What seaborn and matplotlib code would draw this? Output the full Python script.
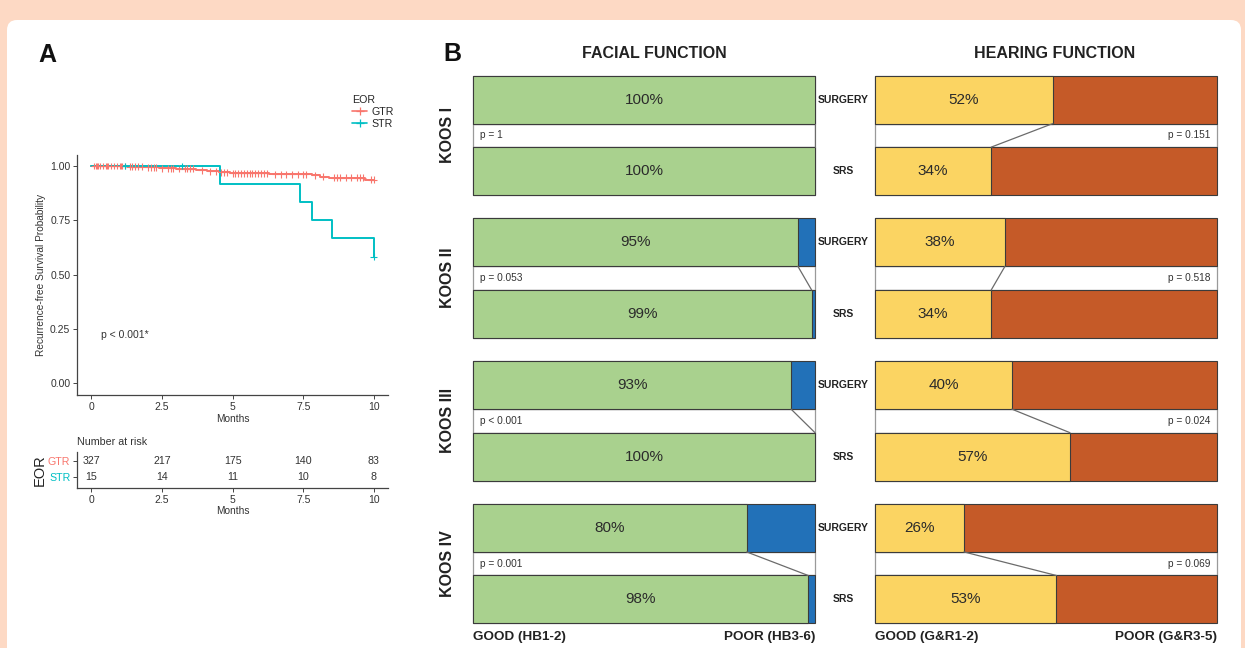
import numpy as np
import pandas as pd
import matplotlib
matplotlib.use("Agg")
import matplotlib.pyplot as plt
from matplotlib.patches import Rectangle, FancyBboxPatch
from matplotlib.lines import Line2D
import seaborn as sns

# ---------------- Panel A: recurrence-free survival by extent of resection
gtr_times = [0, 1.3, 1.9, 2.4, 3.0, 3.7, 4.1, 4.5, 4.9, 6.3, 7.8, 8.1, 8.4, 9.7, 10.0]
gtr_surv = [1.0, 0.997, 0.994, 0.990, 0.987, 0.980, 0.975, 0.970, 0.966,
            0.962, 0.957, 0.951, 0.946, 0.936, 0.936]
gtr_censored = [0.1, 0.15, 0.2, 0.25, 0.3, 0.4, 0.5, 0.55, 0.6, 0.7, 0.8, 0.9,
                1.0, 1.05, 1.1, 1.2, 1.35, 1.45, 1.55, 1.65, 1.8, 2.0, 2.1,
                2.2, 2.3, 2.5, 2.7, 2.8, 2.9, 3.1, 3.3, 3.4, 3.5, 3.6, 3.9,
                4.2, 4.4, 4.6, 4.7, 4.8, 5.0, 5.1, 5.2, 5.3, 5.4, 5.5, 5.6,
                5.7, 5.8, 5.9, 6.0, 6.1, 6.2, 6.5, 6.7, 6.9, 7.1, 7.3, 7.5,
                7.6, 7.9, 8.2, 8.6, 8.7, 8.8, 9.0, 9.2, 9.4, 9.5, 9.6, 9.9, 10.0]
str_times = [0, 4.55, 7.4, 7.8, 8.5, 10.0]
str_surv = [1.0, 0.917, 0.833, 0.75, 0.667, 0.583]
str_censored = [1.2, 3.2, 10.0]

risk_times = [0, 2.5, 5, 7.5, 10]
gtr_at_risk = [327, 217, 175, 140, 83]
str_at_risk = [15, 14, 11, 10, 8]
eor_groups = ["GTR", "STR"]
eor_colors = {"GTR": "#F8766D", "STR": "#00BFC4"}

# ---------------- Panel B: functional outcome, surgery vs SRS per Koos grade
koos_groups = ["KOOS I", "KOOS II", "KOOS III", "KOOS IV"]
treatments = ["SURGERY", "SRS"]
facial_surgery_good = [100, 95, 93, 80]
facial_srs_good = [100, 99, 100, 98]
facial_p = ["p = 1", "p = 0.053", "p < 0.001", "p = 0.001"]
hearing_surgery_good = [52, 38, 40, 26]
hearing_srs_good = [34, 34, 57, 53]
hearing_p = ["p = 0.151", "p = 0.518", "p = 0.024", "p = 0.069"]

GREEN, BLUE = "#A9D18E", "#2271B8"
YELLOW, RUST = "#FBD462", "#C55A28"
EDGE = "#3b3b3b"

sns.set_style("white")
plt.rcParams["font.family"] = ["Liberation Sans", "DejaVu Sans"]

W, H = 1245, 648
fig = plt.figure(figsize=(W / 100, H / 100), dpi=100, facecolor="#FDD9C4")


def frac_box(x0, y0, x1, y1):
    """Axes rectangle from pixel corners (top-left origin)."""
    return [x0 / W, 1 - y1 / H, (x1 - x0) / W, (y1 - y0) / H]


# white card behind everything
bg = fig.add_axes([0, 0, 1, 1])
bg.set_zorder(-5)
bg.set_xlim(0, W)
bg.set_ylim(H, 0)
bg.axis("off")
bg.add_patch(FancyBboxPatch((7, 20), 1234, 700,
                            boxstyle="round,pad=0,rounding_size=10",
                            fc="white", ec="none"))


def step_lookup(times, surv, t):
    idx = np.searchsorted(times, t, side="right") - 1
    return np.asarray(surv)[idx]


# ---- Kaplan-Meier curves
km = pd.concat([
    pd.DataFrame({"time": gtr_times, "surv": gtr_surv, "EOR": "GTR"}),
    pd.DataFrame({"time": str_times, "surv": str_surv, "EOR": "STR"}),
], ignore_index=True)
cens = pd.concat([
    pd.DataFrame({"time": gtr_censored,
                  "surv": step_lookup(gtr_times, gtr_surv, gtr_censored),
                  "EOR": "GTR"}),
    pd.DataFrame({"time": str_censored,
                  "surv": step_lookup(str_times, str_surv, str_censored),
                  "EOR": "STR"}),
], ignore_index=True)

ax_km = fig.add_axes(frac_box(77.3, 155.1, 388, 395.2))
ax_km.set_facecolor("none")
for grp in eor_groups:
    sub = km[km["EOR"] == grp]
    sns.lineplot(data=sub, x="time", y="surv", color=eor_colors[grp],
                 drawstyle="steps-post", estimator=None, sort=False,
                 lw=1.4, ax=ax_km, legend=False)
sns.scatterplot(data=cens, x="time", y="surv", hue="EOR", palette=eor_colors,
                marker="+", s=24, linewidth=0.8, ax=ax_km, legend=False, zorder=3)
ax_km.set_xlim(-0.5, 10.5)
ax_km.set_ylim(-0.055, 1.05)
ax_km.set_xticks(risk_times)
ax_km.set_xticklabels(["0", "2.5", "5", "7.5", "10"])
ax_km.set_yticks([0, 0.25, 0.5, 0.75, 1.0])
ax_km.set_yticklabels(["0.00", "0.25", "0.50", "0.75", "1.00"])
ax_km.set_xlabel("Months", fontsize=7.3, color="#333333", labelpad=1)
ax_km.set_ylabel("Recurrence-free Survival Probability", fontsize=7.3,
                 color="#333333", labelpad=3)
ax_km.text(0.35, 0.22, "p < 0.001*", fontsize=7.5, color="#333333",
           va="center", ha="left")
for side in ("top", "right"):
    ax_km.spines[side].set_visible(False)
for side in ("left", "bottom"):
    ax_km.spines[side].set_color("#444444")
    ax_km.spines[side].set_linewidth(0.9)
ax_km.tick_params(axis="both", length=3, width=0.7, color="#444444",
                  labelsize=7.5, labelcolor="#333333", pad=2, left=True, bottom=True)

legend_handles = [Line2D([], [], color=eor_colors[g], marker="+", markersize=6,
                         lw=1.2, mew=0.9) for g in eor_groups]
fig.legend(legend_handles, eor_groups, title="EOR", loc="upper left",
           bbox_to_anchor=(347 / W, 1 - 90 / H), frameon=False, fontsize=7.7,
           title_fontsize=7.7, handlelength=1.4, handletextpad=0.4,
           labelspacing=0.15, borderpad=0, alignment="left")

# ---- number-at-risk table
ax_risk = fig.add_axes(frac_box(77.3, 452, 388, 488))
ax_risk.set_facecolor("none")
risk_rows = {"GTR": 1, "STR": 0}
for grp, counts in (("GTR", gtr_at_risk), ("STR", str_at_risk)):
    for t, n in zip(risk_times, counts):
        ax_risk.text(t, risk_rows[grp], f"{n:d}", ha="center", va="center",
                     fontsize=7.7, color="#333333")
ax_risk.set_xlim(-0.5, 10.5)
ax_risk.set_ylim(-0.69, 1.56)
ax_risk.set_xticks(risk_times)
ax_risk.set_xticklabels(["0", "2.5", "5", "7.5", "10"])
ax_risk.set_yticks([risk_rows[g] for g in eor_groups])
ax_risk.set_yticklabels(eor_groups)
ax_risk.set_xlabel("Months", fontsize=7.3, color="#333333", labelpad=1)
ax_risk.set_ylabel("EOR", fontsize=10.5, color="#222222", labelpad=1)
ax_risk.set_title("Number at risk", loc="left", fontsize=7.7, color="#333333",
                  pad=5)
for side in ("top", "right"):
    ax_risk.spines[side].set_visible(False)
for side in ("left", "bottom"):
    ax_risk.spines[side].set_color("#444444")
    ax_risk.spines[side].set_linewidth(0.9)
ax_risk.tick_params(axis="both", length=3, width=0.7, color="#444444",
                    labelsize=7.5, labelcolor="#333333", pad=2, left=True, bottom=True)
ax_risk.tick_params(axis="y", labelsize=7.7)
for lbl, g in zip(ax_risk.get_yticklabels(), eor_groups):
    lbl.set_color(eor_colors[g])

# ---------------- Panel B bar blocks
BAR_W = 0.67


def draw_outcome(ax, surg_good, srs_good, good_col, poor_col, pvals, p_right):
    rows, goods = [], []
    for k, sg, rg in zip(koos_groups, surg_good, srs_good):
        rows += [f"{k} {treatments[0]}", f"{k} {treatments[1]}"]
        goods += [sg, rg]
    df = pd.DataFrame({"row": rows, "good": goods, "total": [100] * len(rows)})
    sns.barplot(data=df, y="row", x="total", order=rows, orient="h",
                color=poor_col, saturation=1, width=BAR_W, edgecolor=EDGE,
                linewidth=0.8, errorbar=None, ax=ax)
    sns.barplot(data=df, y="row", x="good", order=rows, orient="h",
                color=good_col, saturation=1, width=BAR_W, edgecolor=EDGE,
                linewidth=0.8, errorbar=None, ax=ax)
    half = BAR_W / 2
    for i, (sg, rg, p) in enumerate(zip(surg_good, srs_good, pvals)):
        top = 2 * i + half
        bot = 2 * i + 1 - half
        ax.add_patch(Rectangle((0, top), 100, bot - top, fc="white",
                               ec="#9a9a9a", lw=0.9, zorder=0.5))
        ax.plot([sg, rg], [top, bot], color="#6b6b6b", lw=0.9, zorder=4)
        if p_right:
            ax.text(98, 2 * i + 0.5, p, ha="right", va="center", fontsize=7.3,
                    color="#333333")
        else:
            ax.text(2, 2 * i + 0.5, p, ha="left", va="center", fontsize=7.3,
                    color="#333333")
        for j, g in enumerate((sg, rg)):
            ax.text(g / 2, 2 * i + j, f"{g}%", ha="center", va="center",
                    fontsize=11, color="#2b2b2b", zorder=5)
    ax.set_xlim(-0.15, 100.15)
    ax.set_ylim(7 + half, -half)
    ax.axis("off")
    for patch in ax.patches:
        patch.set_clip_on(False)


ax_fac = fig.add_axes(frac_box(472.5, 75.7, 815.5, 623.3))
ax_fac.set_facecolor("none")
draw_outcome(ax_fac, facial_surgery_good, facial_srs_good, GREEN, BLUE,
             facial_p, p_right=False)
ax_hear = fig.add_axes(frac_box(874.5, 75.7, 1217.5, 623.3))
ax_hear.set_facecolor("none")
draw_outcome(ax_hear, hearing_surgery_good, hearing_srs_good, YELLOW, RUST,
             hearing_p, p_right=True)

# treatment labels between the two blocks, Koos grade labels on the left
for i, k in enumerate(koos_groups):
    ax_fac.text(108.2, 2 * i, treatments[0], ha="center", va="center",
                fontsize=7.5, fontweight="bold", color="#222222", clip_on=False)
    ax_fac.text(108.2, 2 * i + 1, treatments[1], ha="center", va="center",
                fontsize=7.5, fontweight="bold", color="#222222", clip_on=False)
    ax_fac.text(-7.6, 2 * i + 0.5, k, ha="center", va="center", rotation=90,
                fontsize=11.5, fontweight="bold", color="#222222", clip_on=False)

# titles, panel letters and axis-end labels
fig.text(654 / W, 1 - 53 / H, "FACIAL FUNCTION", ha="center", va="center",
         fontsize=11.5, fontweight="bold", color="#222222")
fig.text(1055 / W, 1 - 53 / H, "HEARING FUNCTION", ha="center", va="center",
         fontsize=11.5, fontweight="bold", color="#222222")
fig.text(443 / W, 1 - 54 / H, "B", ha="left", va="center", fontsize=18,
         fontweight="bold", color="#111111")
fig.text(38 / W, 1 - 55 / H, "A", ha="left", va="center", fontsize=18,
         fontweight="bold", color="#111111")
for x, s, ha in [(473, "GOOD (HB1-2)", "left"), (815, "POOR (HB3-6)", "right"),
                 (875, "GOOD (G&R1-2)", "left"), (1217, "POOR (G&R3-5)", "right")]:
    fig.text(x / W, 1 - 637 / H, s, ha=ha, va="center", fontsize=9.7,
             fontweight="bold", color="#222222")

fig.savefig("out.png", dpi=100, facecolor=fig.get_facecolor())
